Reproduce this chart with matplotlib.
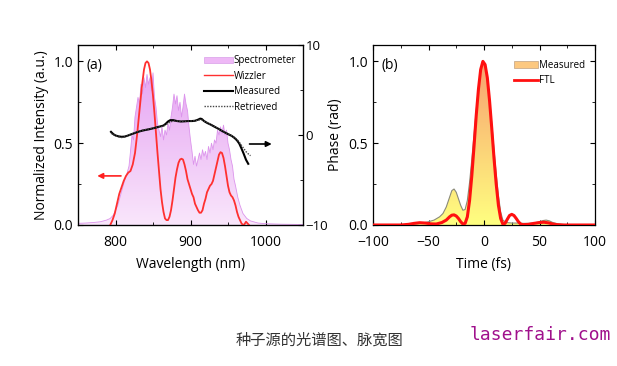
import numpy as np
import matplotlib
matplotlib.use("Agg")
import matplotlib.pyplot as plt
from matplotlib.colors import LinearSegmentedColormap
from matplotlib.patches import Rectangle
from matplotlib.lines import Line2D
from matplotlib.ticker import MultipleLocator

# ---------------- data: panel (a) ----------------
spec_wl = [750, 760, 770, 780, 788, 793, 797, 800, 803, 806, 809, 812, 815, 818, 820, 822, 824, 826, 828,
           830, 832, 834, 836, 838, 840, 842, 844, 846, 848, 850, 852, 854, 856, 858, 860, 862, 864, 866,
           868, 870, 872, 874, 876, 878, 880, 882, 884, 886, 888, 890, 892, 894, 896, 898, 900, 902, 904,
           906, 908, 910, 912, 914, 916, 918, 920, 922, 924, 926, 928, 930, 932, 934, 936, 938, 940, 942,
           944, 946, 948, 950, 952, 954, 956, 958, 960, 963, 966, 970, 975, 980, 990, 1000, 1020, 1050]
spec_val = [0.01, 0.012, 0.015, 0.02, 0.03, 0.04, 0.06, 0.09, 0.12, 0.17, 0.22, 0.27, 0.31, 0.36, 0.45,
            0.55, 0.52, 0.66, 0.72, 0.78, 0.74, 0.86, 0.80, 0.90, 0.84, 0.92, 0.86, 0.90, 0.82, 0.93, 0.78,
            0.72, 0.62, 0.58, 0.54, 0.60, 0.52, 0.58, 0.55, 0.62, 0.58, 0.66, 0.72, 0.80, 0.74, 0.79, 0.70,
            0.75, 0.66, 0.72, 0.80, 0.74, 0.70, 0.60, 0.52, 0.45, 0.37, 0.42, 0.36, 0.40, 0.44, 0.40, 0.46,
            0.42, 0.45, 0.40, 0.48, 0.44, 0.50, 0.46, 0.52, 0.50, 0.58, 0.55, 0.60, 0.56, 0.61, 0.55, 0.58,
            0.50, 0.46, 0.40, 0.36, 0.28, 0.24, 0.17, 0.12, 0.07, 0.04, 0.025, 0.012, 0.008, 0.005, 0.003]

wz_wl = [793, 796, 799, 802, 805, 808, 811, 814, 817, 820, 823, 826, 829, 832, 835, 838, 840, 842, 844,
         846, 848, 850, 852, 854, 856, 858, 860, 862, 864, 866, 868, 870, 872, 874, 876, 878, 880, 882,
         884, 886, 888, 890, 892, 894, 896, 898, 900, 902, 904, 906, 908, 910, 912, 914, 916, 918, 920,
         922, 924, 926, 928, 930, 932, 934, 936, 938, 940, 942, 944, 946, 948, 950, 952, 954, 956, 958,
         960, 962, 964, 966, 968, 970, 972, 974, 976, 978]
wz_val = [0.0, 0.03, 0.07, 0.13, 0.19, 0.23, 0.27, 0.30, 0.32, 0.33, 0.37, 0.44, 0.56, 0.70, 0.84, 0.95,
          0.99, 1.0, 0.99, 0.95, 0.88, 0.79, 0.68, 0.56, 0.44, 0.33, 0.22, 0.14, 0.08, 0.04, 0.03, 0.03,
          0.05, 0.09, 0.15, 0.22, 0.29, 0.34, 0.38, 0.40, 0.405, 0.40, 0.37, 0.33, 0.28, 0.25, 0.22, 0.19,
          0.17, 0.13, 0.11, 0.09, 0.075, 0.075, 0.09, 0.13, 0.16, 0.20, 0.22, 0.24, 0.25, 0.27, 0.31, 0.35,
          0.39, 0.43, 0.445, 0.44, 0.41, 0.36, 0.30, 0.24, 0.20, 0.18, 0.17, 0.15, 0.12, 0.08, 0.05, 0.03,
          0.01, 0.0, 0.005, 0.02, 0.01, 0.0]

ph_wl = [794, 797, 800, 804, 808, 812, 816, 820, 825, 830, 835, 840, 845, 850, 855, 860, 864, 867, 870,
         873, 877, 882, 887, 892, 897, 902, 906, 910, 913, 915, 918, 922, 927, 932, 937, 941, 945, 950,
         955, 959, 962, 965, 968, 971, 974, 977]
ph_meas = [0.35, 0.1, -0.05, -0.15, -0.2, -0.18, -0.08, 0.05, 0.2, 0.35, 0.47, 0.56, 0.64, 0.74, 0.85,
           0.96, 1.05, 1.25, 1.5, 1.65, 1.65, 1.55, 1.5, 1.52, 1.55, 1.55, 1.58, 1.7, 1.82, 1.78, 1.55,
           1.35, 1.15, 0.92, 0.7, 0.5, 0.32, 0.1, -0.1, -0.35, -0.6, -0.95, -1.5, -2.1, -2.75, -3.2]

ret_wl = [794, 797, 800, 804, 808, 812, 816, 820, 825, 830, 835, 840, 845, 850, 855, 860, 864, 867, 870,
          873, 877, 882, 887, 892, 897, 902, 906, 910, 913, 915, 918, 922, 927, 932, 937, 941, 945, 950,
          955, 959, 962, 965, 968, 971, 974, 977, 980]
ph_ret = [0.2, 0.05, -0.08, -0.2, -0.28, -0.22, -0.1, 0.05, 0.22, 0.38, 0.5, 0.6, 0.68, 0.76, 0.85, 0.92,
          1.0, 1.12, 1.3, 1.45, 1.55, 1.55, 1.52, 1.52, 1.55, 1.57, 1.6, 1.65, 1.7, 1.68, 1.55, 1.38, 1.18,
          0.95, 0.72, 0.52, 0.33, 0.12, -0.08, -0.3, -0.5, -0.8, -1.15, -1.5, -1.85, -2.1, -2.3]

# ---------------- data: panel (b) ----------------
t_meas = [-100, -80, -70, -60, -55, -50, -45, -40, -37, -34, -31, -29, -27, -25, -23, -21, -19, -17, -15,
          -13, -11, -9, -7, -5, -3, -1, 1, 3, 5, 7, 9, 11, 13, 15, 17, 20, 25, 30, 35, 40, 45, 50, 53, 56,
          59, 62, 66, 70, 75, 80, 100]
meas = [0, 0, 0.003, 0.008, 0.012, 0.02, 0.03, 0.05, 0.07, 0.11, 0.17, 0.21, 0.22, 0.20, 0.16, 0.12, 0.09,
        0.095, 0.15, 0.26, 0.40, 0.55, 0.70, 0.84, 0.95, 1.0, 0.98, 0.90, 0.77, 0.62, 0.46, 0.31, 0.18,
        0.08, 0.03, 0.015, 0.012, 0.012, 0.01, 0.01, 0.012, 0.02, 0.027, 0.03, 0.025, 0.015, 0.008, 0.004,
        0.002, 0, 0]

t_ftl = [-100, -75, -68, -63, -58, -53, -48, -43, -38, -34, -31, -29, -27, -25, -23, -21, -19, -17, -15,
         -13, -11, -9, -7, -5, -3, -1, 1, 3, 5, 7, 9, 11, 13, 15, 17, 19, 21, 23, 25, 27, 29, 31, 33, 35,
         40, 45, 50, 54, 58, 62, 66, 72, 100]
ftl = [0, 0, 0.004, 0.01, 0.014, 0.012, 0.007, 0.006, 0.015, 0.03, 0.05, 0.06, 0.062, 0.055, 0.04, 0.02,
       0.006, 0.01, 0.05, 0.15, 0.30, 0.48, 0.67, 0.83, 0.95, 1.0, 0.98, 0.90, 0.76, 0.59, 0.41, 0.25, 0.12,
       0.04, 0.005, 0.01, 0.035, 0.058, 0.065, 0.058, 0.04, 0.02, 0.006, 0.002, 0.004, 0.01, 0.015, 0.017,
       0.013, 0.006, 0.002, 0, 0]

xticks_a = [800, 900, 1000]
xticks_b = [-100, -50, 0, 50, 100]
yticks = [0.0, 0.5, 1.0]

# ---------------- figure ----------------
plt.rcParams['font.family'] = ['Open Sans', 'DejaVu Sans']
fig = plt.figure(figsize=(6.17, 3.66), dpi=100)
fs = 10


def gradient_fill(ax, x, y, c_top, c_bot, ymax, edge=None, lw=0.6):
    poly = ax.fill_between(x, 0, y, facecolor='none', edgecolor='none')
    cmap = LinearSegmentedColormap.from_list('g', [c_bot, c_top])
    grad = np.linspace(0, 1, 256).reshape(-1, 1)
    im = ax.imshow(grad, cmap=cmap, aspect='auto', origin='lower',
                   extent=[min(x), max(x), 0, ymax], zorder=1)
    path = poly.get_paths()[0]
    im.set_clip_path(path, transform=ax.transData)
    if edge is not None:
        ax.plot(x, y, color=edge, lw=lw, zorder=2)
    return im


# ---- panel (a)
axa = fig.add_axes([78/617, 1-225/366, 225/617, 180/366])
gradient_fill(axa, spec_wl, spec_val, '#e6a4f3', '#f9e6fb', 0.95, edge='#dc94ec', lw=0.6)
axa.plot(wz_wl, wz_val, color='#ff3030', lw=1.3, zorder=4)
axa.set_xlim(750, 1050)
axa.set_ylim(0, 1.1)
axa.set_xticks(xticks_a)
axa.set_yticks(yticks)
axa.xaxis.set_minor_locator(MultipleLocator(50))
axa.yaxis.set_minor_locator(MultipleLocator(0.25))
axa.tick_params(direction='in', which='both', top=True, right=False, labelsize=fs, length=3.5)
axa.tick_params(which='minor', length=2)
axa.tick_params(axis='x', pad=7)
axa.set_xlabel('Wavelength (nm)', fontsize=fs, labelpad=5)
axa.set_ylabel('Normalized Intensity (a.u.)', fontsize=fs, labelpad=3)
axa.text(0.04, 0.93, '(a)', transform=axa.transAxes, fontsize=fs, va='top', ha='left')
axa.annotate('', xy=(772, 0.30), xytext=(811, 0.30),
             arrowprops=dict(arrowstyle='-|>', color='#ff2020', lw=1.2, mutation_scale=8), zorder=5)
for s in axa.spines.values():
    s.set_linewidth(0.9)

axp = axa.twinx()
axp.plot(ph_wl, ph_meas, color='black', lw=1.5, zorder=5)
axp.plot(ret_wl, ph_ret, color='#444444', lw=1.0, ls=(0, (1, 1)), zorder=6)
axp.set_ylim(-10, 10)
axp.set_yticks([-10, 0, 10])
axp.yaxis.set_minor_locator(MultipleLocator(5))
axp.tick_params(direction='in', which='both', labelsize=9.5, length=3.5, pad=2)
axp.tick_params(which='minor', length=2)
axp.set_ylabel('Phase (rad)', fontsize=fs, labelpad=0)
axp.annotate('', xy=(1012, -1.0), xytext=(975, -1.0),
             arrowprops=dict(arrowstyle='-|>', color='black', lw=1.2, mutation_scale=8), zorder=5)
axp.set_zorder(axa.get_zorder() + 1)
axp.patch.set_visible(False)

h_a = [Rectangle((0, 0), 1, 1, facecolor='#eeb8f6', edgecolor='#d8a0e8', lw=0.5),
       Line2D([], [], color='#ff3030', lw=1.0),
       Line2D([], [], color='black', lw=1.5),
       Line2D([], [], color='#444444', lw=1.0, ls=(0, (1, 1)))]
axp.legend(h_a, ['Spectrometer', 'Wizzler', 'Measured', 'Retrieved'], loc='upper right',
           bbox_to_anchor=(1.0, 0.98), frameon=False, fontsize=7, handlelength=3.0,
           handletextpad=0.1, labelspacing=0.45, borderaxespad=0.3)

# ---- panel (b)
axb = fig.add_axes([373/617, 1-225/366, 222/617, 180/366])
gradient_fill(axb, t_meas, meas, '#f8a070', '#ffff80', 1.0, edge='#8a8a7a', lw=0.8)
axb.plot(t_ftl, ftl, color='#ff1010', lw=2.2, zorder=4)
axb.set_xlim(-100, 100)
axb.set_ylim(0, 1.1)
axb.set_xticks(xticks_b)
axb.set_yticks(yticks)
axb.xaxis.set_minor_locator(MultipleLocator(25))
axb.yaxis.set_minor_locator(MultipleLocator(0.25))
axb.tick_params(direction='in', which='both', top=True, right=True, labelsize=fs, length=3.5)
axb.tick_params(which='minor', length=2)
axb.tick_params(axis='x', pad=7)
for s in axb.spines.values():
    s.set_linewidth(0.9)
axb.set_xlabel('Time (fs)', fontsize=fs, labelpad=5)
axb.text(0.04, 0.93, '(b)', transform=axb.transAxes, fontsize=fs, va='top', ha='left')
h_b = [Rectangle((0, 0), 1, 1, facecolor='#fcc880', edgecolor='#c0a080', lw=0.5),
       Line2D([], [], color='#ff1010', lw=2.0)]
axb.legend(h_b, ['Measured', 'FTL'], loc='upper right', bbox_to_anchor=(1.0, 0.97),
           frameon=False, fontsize=7, handlelength=2.5, handletextpad=0.1,
           labelspacing=0.45, borderaxespad=0.6)

# ---- captions
fig.text(320/617, 1-340/366, '种子源的光谱图、脉宽图', fontsize=11, color='#333333',
         ha='center', va='center', family=['Noto Sans CJK SC', 'DejaVu Sans'])
fig.text(611/617, 1-335/366, 'laserfair.com', fontsize=13, color='#a0108c',
         ha='right', va='center', family='DejaVu Sans Mono')

fig.savefig('out.png', dpi=100)
